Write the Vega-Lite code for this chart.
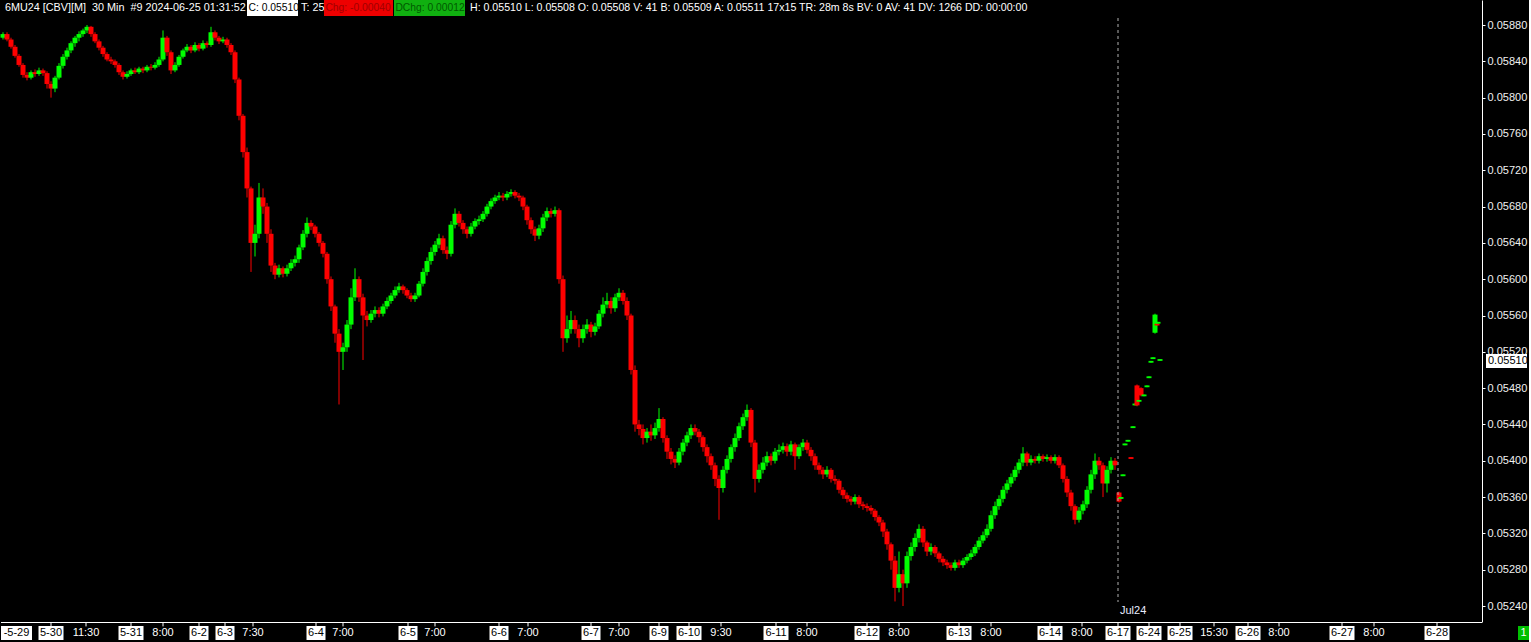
{
"$schema":"https://vega.github.io/schema/vega-lite/v6.json",
"background":"#000000",
"padding":0,
"spacing":0,
"config":{"view":{"stroke":null},"font":"Liberation Sans","numberFormat":".5f",
 "axisY":{"grid":false,"labelColor":"#f0f0f0","labelFont":"Liberation Sans","labelFontSize":11,"labelPadding":2,"tickColor":"#ffffff","tickSize":3,"domainColor":"#ffffff","domainWidth":1,"labelFlush":false,"labelOverlap":false,"title":null}},
"datasets":{
"bars":[
{"i":0,"o":0.05866,"h":0.05872,"l":0.05864,"c":0.05870},
{"i":1,"o":0.05870,"h":0.05872,"l":0.05862,"c":0.05864},
{"i":2,"o":0.05864,"h":0.05866,"l":0.05854,"c":0.05856},
{"i":3,"o":0.05856,"h":0.05858,"l":0.05844,"c":0.05846},
{"i":4,"o":0.05846,"h":0.05848,"l":0.05834,"c":0.05836},
{"i":5,"o":0.05836,"h":0.05838,"l":0.05822,"c":0.05825},
{"i":6,"o":0.05825,"h":0.05828,"l":0.05819,"c":0.05822},
{"i":7,"o":0.05822,"h":0.05830,"l":0.05820,"c":0.05828},
{"i":8,"o":0.05828,"h":0.05831,"l":0.05823,"c":0.05826},
{"i":9,"o":0.05826,"h":0.05833,"l":0.05824,"c":0.05830},
{"i":10,"o":0.05830,"h":0.05832,"l":0.05824,"c":0.05827},
{"i":11,"o":0.05827,"h":0.05829,"l":0.05810,"c":0.05815},
{"i":12,"o":0.05815,"h":0.05818,"l":0.05800,"c":0.05810},
{"i":13,"o":0.05810,"h":0.05824,"l":0.05806,"c":0.05822},
{"i":14,"o":0.05822,"h":0.05838,"l":0.05820,"c":0.05835},
{"i":15,"o":0.05835,"h":0.05848,"l":0.05832,"c":0.05845},
{"i":16,"o":0.05845,"h":0.05855,"l":0.05842,"c":0.05852},
{"i":17,"o":0.05852,"h":0.05862,"l":0.05849,"c":0.05860},
{"i":18,"o":0.05860,"h":0.05868,"l":0.05856,"c":0.05866},
{"i":19,"o":0.05866,"h":0.05873,"l":0.05862,"c":0.05870},
{"i":20,"o":0.05870,"h":0.05876,"l":0.05867,"c":0.05874},
{"i":21,"o":0.05874,"h":0.05880,"l":0.05871,"c":0.05878},
{"i":22,"o":0.05878,"h":0.05879,"l":0.05867,"c":0.05870},
{"i":23,"o":0.05870,"h":0.05872,"l":0.05860,"c":0.05862},
{"i":24,"o":0.05862,"h":0.05864,"l":0.05852,"c":0.05855},
{"i":25,"o":0.05855,"h":0.05857,"l":0.05845,"c":0.05848},
{"i":26,"o":0.05848,"h":0.05850,"l":0.05840,"c":0.05842},
{"i":27,"o":0.05842,"h":0.05845,"l":0.05837,"c":0.05840},
{"i":28,"o":0.05840,"h":0.05842,"l":0.05833,"c":0.05836},
{"i":29,"o":0.05836,"h":0.05838,"l":0.05825,"c":0.05828},
{"i":30,"o":0.05828,"h":0.05830,"l":0.05820,"c":0.05823},
{"i":31,"o":0.05823,"h":0.05829,"l":0.05821,"c":0.05826},
{"i":32,"o":0.05826,"h":0.05832,"l":0.05824,"c":0.05830},
{"i":33,"o":0.05830,"h":0.05833,"l":0.05826,"c":0.05828},
{"i":34,"o":0.05828,"h":0.05834,"l":0.05826,"c":0.05832},
{"i":35,"o":0.05832,"h":0.05834,"l":0.05827,"c":0.05830},
{"i":36,"o":0.05830,"h":0.05836,"l":0.05828,"c":0.05834},
{"i":37,"o":0.05834,"h":0.05837,"l":0.05830,"c":0.05833},
{"i":38,"o":0.05833,"h":0.05839,"l":0.05831,"c":0.05836},
{"i":39,"o":0.05836,"h":0.05845,"l":0.05834,"c":0.05842},
{"i":40,"o":0.05842,"h":0.05874,"l":0.05840,"c":0.05866},
{"i":41,"o":0.05866,"h":0.05868,"l":0.05846,"c":0.05850},
{"i":42,"o":0.05850,"h":0.05852,"l":0.05826,"c":0.05830},
{"i":43,"o":0.05830,"h":0.05839,"l":0.05828,"c":0.05836},
{"i":44,"o":0.05836,"h":0.05847,"l":0.05834,"c":0.05845},
{"i":45,"o":0.05845,"h":0.05854,"l":0.05843,"c":0.05852},
{"i":46,"o":0.05852,"h":0.05859,"l":0.05850,"c":0.05856},
{"i":47,"o":0.05856,"h":0.05858,"l":0.05849,"c":0.05852},
{"i":48,"o":0.05852,"h":0.05861,"l":0.05850,"c":0.05858},
{"i":49,"o":0.05858,"h":0.05860,"l":0.05851,"c":0.05854},
{"i":50,"o":0.05854,"h":0.05863,"l":0.05852,"c":0.05860},
{"i":51,"o":0.05860,"h":0.05862,"l":0.05855,"c":0.05858},
{"i":52,"o":0.05858,"h":0.05878,"l":0.05856,"c":0.05872},
{"i":53,"o":0.05872,"h":0.05874,"l":0.05863,"c":0.05866},
{"i":54,"o":0.05866,"h":0.05868,"l":0.05859,"c":0.05862},
{"i":55,"o":0.05862,"h":0.05867,"l":0.05860,"c":0.05864},
{"i":56,"o":0.05864,"h":0.05866,"l":0.05855,"c":0.05858},
{"i":57,"o":0.05858,"h":0.05860,"l":0.05847,"c":0.05850},
{"i":58,"o":0.05850,"h":0.05852,"l":0.05816,"c":0.05820},
{"i":59,"o":0.05820,"h":0.05822,"l":0.05775,"c":0.05780},
{"i":60,"o":0.05780,"h":0.05782,"l":0.05734,"c":0.05740},
{"i":61,"o":0.05740,"h":0.05745,"l":0.05690,"c":0.05700},
{"i":62,"o":0.05700,"h":0.05702,"l":0.05608,"c":0.05640},
{"i":63,"o":0.05640,"h":0.05660,"l":0.05625,"c":0.05650},
{"i":64,"o":0.05650,"h":0.05706,"l":0.05645,"c":0.05690},
{"i":65,"o":0.05690,"h":0.05700,"l":0.05672,"c":0.05680},
{"i":66,"o":0.05680,"h":0.05684,"l":0.05640,"c":0.05650},
{"i":67,"o":0.05650,"h":0.05655,"l":0.05608,"c":0.05615},
{"i":68,"o":0.05615,"h":0.05618,"l":0.05600,"c":0.05605},
{"i":69,"o":0.05605,"h":0.05616,"l":0.05602,"c":0.05612},
{"i":70,"o":0.05612,"h":0.05614,"l":0.05602,"c":0.05606},
{"i":71,"o":0.05606,"h":0.05616,"l":0.05603,"c":0.05612},
{"i":72,"o":0.05612,"h":0.05622,"l":0.05609,"c":0.05618},
{"i":73,"o":0.05618,"h":0.05626,"l":0.05614,"c":0.05622},
{"i":74,"o":0.05622,"h":0.05638,"l":0.05618,"c":0.05635},
{"i":75,"o":0.05635,"h":0.05654,"l":0.05632,"c":0.05650},
{"i":76,"o":0.05650,"h":0.05668,"l":0.05646,"c":0.05662},
{"i":77,"o":0.05662,"h":0.05665,"l":0.05654,"c":0.05658},
{"i":78,"o":0.05658,"h":0.05660,"l":0.05646,"c":0.05650},
{"i":79,"o":0.05650,"h":0.05652,"l":0.05636,"c":0.05640},
{"i":80,"o":0.05640,"h":0.05642,"l":0.05624,"c":0.05628},
{"i":81,"o":0.05628,"h":0.05630,"l":0.05595,"c":0.05600},
{"i":82,"o":0.05600,"h":0.05603,"l":0.05565,"c":0.05570},
{"i":83,"o":0.05570,"h":0.05572,"l":0.05530,"c":0.05540},
{"i":84,"o":0.05540,"h":0.05545,"l":0.05462,"c":0.05520},
{"i":85,"o":0.05520,"h":0.05530,"l":0.05500,"c":0.05525},
{"i":86,"o":0.05525,"h":0.05555,"l":0.05520,"c":0.05550},
{"i":87,"o":0.05550,"h":0.05590,"l":0.05545,"c":0.05580},
{"i":88,"o":0.05580,"h":0.05612,"l":0.05576,"c":0.05600},
{"i":89,"o":0.05600,"h":0.05603,"l":0.05575,"c":0.05580},
{"i":90,"o":0.05580,"h":0.05584,"l":0.05511,"c":0.05560},
{"i":91,"o":0.05560,"h":0.05565,"l":0.05548,"c":0.05555},
{"i":92,"o":0.05555,"h":0.05566,"l":0.05552,"c":0.05562},
{"i":93,"o":0.05562,"h":0.05570,"l":0.05558,"c":0.05566},
{"i":94,"o":0.05566,"h":0.05569,"l":0.05558,"c":0.05562},
{"i":95,"o":0.05562,"h":0.05573,"l":0.05559,"c":0.05570},
{"i":96,"o":0.05570,"h":0.05580,"l":0.05567,"c":0.05576},
{"i":97,"o":0.05576,"h":0.05585,"l":0.05573,"c":0.05582},
{"i":98,"o":0.05582,"h":0.05592,"l":0.05579,"c":0.05588},
{"i":99,"o":0.05588,"h":0.05596,"l":0.05585,"c":0.05592},
{"i":100,"o":0.05592,"h":0.05594,"l":0.05584,"c":0.05588},
{"i":101,"o":0.05588,"h":0.05590,"l":0.05579,"c":0.05582},
{"i":102,"o":0.05582,"h":0.05585,"l":0.05575,"c":0.05578},
{"i":103,"o":0.05578,"h":0.05585,"l":0.05575,"c":0.05582},
{"i":104,"o":0.05582,"h":0.05598,"l":0.05580,"c":0.05595},
{"i":105,"o":0.05595,"h":0.05612,"l":0.05592,"c":0.05608},
{"i":106,"o":0.05608,"h":0.05624,"l":0.05604,"c":0.05620},
{"i":107,"o":0.05620,"h":0.05635,"l":0.05616,"c":0.05630},
{"i":108,"o":0.05630,"h":0.05642,"l":0.05626,"c":0.05638},
{"i":109,"o":0.05638,"h":0.05650,"l":0.05634,"c":0.05645},
{"i":110,"o":0.05645,"h":0.05648,"l":0.05628,"c":0.05632},
{"i":111,"o":0.05632,"h":0.05636,"l":0.05622,"c":0.05628},
{"i":112,"o":0.05628,"h":0.05664,"l":0.05625,"c":0.05660},
{"i":113,"o":0.05660,"h":0.05678,"l":0.05656,"c":0.05672},
{"i":114,"o":0.05672,"h":0.05675,"l":0.05658,"c":0.05662},
{"i":115,"o":0.05662,"h":0.05665,"l":0.05650,"c":0.05655},
{"i":116,"o":0.05655,"h":0.05658,"l":0.05645,"c":0.05650},
{"i":117,"o":0.05650,"h":0.05662,"l":0.05647,"c":0.05658},
{"i":118,"o":0.05658,"h":0.05667,"l":0.05655,"c":0.05664},
{"i":119,"o":0.05664,"h":0.05670,"l":0.05660,"c":0.05666},
{"i":120,"o":0.05666,"h":0.05675,"l":0.05663,"c":0.05672},
{"i":121,"o":0.05672,"h":0.05683,"l":0.05669,"c":0.05680},
{"i":122,"o":0.05680,"h":0.05689,"l":0.05677,"c":0.05686},
{"i":123,"o":0.05686,"h":0.05693,"l":0.05683,"c":0.05690},
{"i":124,"o":0.05690,"h":0.05696,"l":0.05687,"c":0.05692},
{"i":125,"o":0.05692,"h":0.05695,"l":0.05686,"c":0.05690},
{"i":126,"o":0.05690,"h":0.05697,"l":0.05687,"c":0.05694},
{"i":127,"o":0.05694,"h":0.05699,"l":0.05691,"c":0.05696},
{"i":128,"o":0.05696,"h":0.05698,"l":0.05689,"c":0.05692},
{"i":129,"o":0.05692,"h":0.05695,"l":0.05686,"c":0.05690},
{"i":130,"o":0.05690,"h":0.05692,"l":0.05676,"c":0.05680},
{"i":131,"o":0.05680,"h":0.05682,"l":0.05660,"c":0.05665},
{"i":132,"o":0.05665,"h":0.05668,"l":0.05650,"c":0.05655},
{"i":133,"o":0.05655,"h":0.05658,"l":0.05642,"c":0.05648},
{"i":134,"o":0.05648,"h":0.05660,"l":0.05644,"c":0.05656},
{"i":135,"o":0.05656,"h":0.05672,"l":0.05652,"c":0.05668},
{"i":136,"o":0.05668,"h":0.05679,"l":0.05664,"c":0.05675},
{"i":137,"o":0.05675,"h":0.05678,"l":0.05668,"c":0.05672},
{"i":138,"o":0.05672,"h":0.05680,"l":0.05669,"c":0.05676},
{"i":139,"o":0.05676,"h":0.05678,"l":0.05595,"c":0.05600},
{"i":140,"o":0.05600,"h":0.05604,"l":0.05520,"c":0.05535},
{"i":141,"o":0.05535,"h":0.05560,"l":0.05530,"c":0.05545},
{"i":142,"o":0.05545,"h":0.05565,"l":0.05540,"c":0.05555},
{"i":143,"o":0.05555,"h":0.05560,"l":0.05540,"c":0.05545},
{"i":144,"o":0.05545,"h":0.05550,"l":0.05525,"c":0.05535},
{"i":145,"o":0.05535,"h":0.05550,"l":0.05530,"c":0.05545},
{"i":146,"o":0.05545,"h":0.05556,"l":0.05540,"c":0.05550},
{"i":147,"o":0.05550,"h":0.05553,"l":0.05536,"c":0.05542},
{"i":148,"o":0.05542,"h":0.05552,"l":0.05538,"c":0.05548},
{"i":149,"o":0.05548,"h":0.05566,"l":0.05545,"c":0.05562},
{"i":150,"o":0.05562,"h":0.05580,"l":0.05558,"c":0.05572},
{"i":151,"o":0.05572,"h":0.05585,"l":0.05568,"c":0.05576},
{"i":152,"o":0.05576,"h":0.05580,"l":0.05562,"c":0.05568},
{"i":153,"o":0.05568,"h":0.05584,"l":0.05564,"c":0.05580},
{"i":154,"o":0.05580,"h":0.05590,"l":0.05576,"c":0.05585},
{"i":155,"o":0.05585,"h":0.05588,"l":0.05572,"c":0.05576},
{"i":156,"o":0.05576,"h":0.05580,"l":0.05555,"c":0.05560},
{"i":157,"o":0.05560,"h":0.05562,"l":0.05495,"c":0.05500},
{"i":158,"o":0.05500,"h":0.05505,"l":0.05432,"c":0.05440},
{"i":159,"o":0.05440,"h":0.05445,"l":0.05428,"c":0.05435},
{"i":160,"o":0.05435,"h":0.05440,"l":0.05418,"c":0.05425},
{"i":161,"o":0.05425,"h":0.05436,"l":0.05420,"c":0.05432},
{"i":162,"o":0.05432,"h":0.05440,"l":0.05422,"c":0.05428},
{"i":163,"o":0.05428,"h":0.05442,"l":0.05424,"c":0.05436},
{"i":164,"o":0.05436,"h":0.05458,"l":0.05432,"c":0.05446},
{"i":165,"o":0.05446,"h":0.05448,"l":0.05420,"c":0.05425},
{"i":166,"o":0.05425,"h":0.05428,"l":0.05402,"c":0.05410},
{"i":167,"o":0.05410,"h":0.05414,"l":0.05396,"c":0.05402},
{"i":168,"o":0.05402,"h":0.05406,"l":0.05392,"c":0.05398},
{"i":169,"o":0.05398,"h":0.05414,"l":0.05395,"c":0.05410},
{"i":170,"o":0.05410,"h":0.05424,"l":0.05406,"c":0.05420},
{"i":171,"o":0.05420,"h":0.05432,"l":0.05416,"c":0.05428},
{"i":172,"o":0.05428,"h":0.05440,"l":0.05424,"c":0.05436},
{"i":173,"o":0.05436,"h":0.05440,"l":0.05428,"c":0.05432},
{"i":174,"o":0.05432,"h":0.05435,"l":0.05420,"c":0.05426},
{"i":175,"o":0.05426,"h":0.05428,"l":0.05410,"c":0.05415},
{"i":176,"o":0.05415,"h":0.05418,"l":0.05398,"c":0.05405},
{"i":177,"o":0.05405,"h":0.05408,"l":0.05390,"c":0.05395},
{"i":178,"o":0.05395,"h":0.05398,"l":0.05372,"c":0.05380},
{"i":179,"o":0.05380,"h":0.05384,"l":0.05335,"c":0.05370},
{"i":180,"o":0.05370,"h":0.05394,"l":0.05365,"c":0.05390},
{"i":181,"o":0.05390,"h":0.05406,"l":0.05386,"c":0.05402},
{"i":182,"o":0.05402,"h":0.05418,"l":0.05398,"c":0.05415},
{"i":183,"o":0.05415,"h":0.05430,"l":0.05410,"c":0.05425},
{"i":184,"o":0.05425,"h":0.05442,"l":0.05422,"c":0.05438},
{"i":185,"o":0.05438,"h":0.05452,"l":0.05434,"c":0.05448},
{"i":186,"o":0.05448,"h":0.05462,"l":0.05444,"c":0.05456},
{"i":187,"o":0.05456,"h":0.05458,"l":0.05415,"c":0.05420},
{"i":188,"o":0.05420,"h":0.05423,"l":0.05365,"c":0.05380},
{"i":189,"o":0.05380,"h":0.05396,"l":0.05376,"c":0.05390},
{"i":190,"o":0.05390,"h":0.05404,"l":0.05386,"c":0.05398},
{"i":191,"o":0.05398,"h":0.05410,"l":0.05394,"c":0.05405},
{"i":192,"o":0.05405,"h":0.05408,"l":0.05395,"c":0.05400},
{"i":193,"o":0.05400,"h":0.05414,"l":0.05397,"c":0.05410},
{"i":194,"o":0.05410,"h":0.05418,"l":0.05406,"c":0.05412},
{"i":195,"o":0.05412,"h":0.05420,"l":0.05408,"c":0.05416},
{"i":196,"o":0.05416,"h":0.05419,"l":0.05405,"c":0.05410},
{"i":197,"o":0.05410,"h":0.05422,"l":0.05406,"c":0.05418},
{"i":198,"o":0.05418,"h":0.05420,"l":0.05390,"c":0.05405},
{"i":199,"o":0.05405,"h":0.05418,"l":0.05402,"c":0.05415},
{"i":200,"o":0.05415,"h":0.05424,"l":0.05411,"c":0.05420},
{"i":201,"o":0.05420,"h":0.05423,"l":0.05408,"c":0.05412},
{"i":202,"o":0.05412,"h":0.05415,"l":0.05400,"c":0.05405},
{"i":203,"o":0.05405,"h":0.05408,"l":0.05390,"c":0.05395},
{"i":204,"o":0.05395,"h":0.05398,"l":0.05385,"c":0.05390},
{"i":205,"o":0.05390,"h":0.05393,"l":0.05380,"c":0.05385},
{"i":206,"o":0.05385,"h":0.05394,"l":0.05382,"c":0.05390},
{"i":207,"o":0.05390,"h":0.05392,"l":0.05376,"c":0.05380},
{"i":208,"o":0.05380,"h":0.05384,"l":0.05374,"c":0.05378},
{"i":209,"o":0.05378,"h":0.05380,"l":0.05364,"c":0.05368},
{"i":210,"o":0.05368,"h":0.05371,"l":0.05358,"c":0.05362},
{"i":211,"o":0.05362,"h":0.05365,"l":0.05354,"c":0.05358},
{"i":212,"o":0.05358,"h":0.05361,"l":0.05351,"c":0.05355},
{"i":213,"o":0.05355,"h":0.05363,"l":0.05352,"c":0.05360},
{"i":214,"o":0.05360,"h":0.05362,"l":0.05348,"c":0.05352},
{"i":215,"o":0.05352,"h":0.05355,"l":0.05346,"c":0.05350},
{"i":216,"o":0.05350,"h":0.05353,"l":0.05344,"c":0.05348},
{"i":217,"o":0.05348,"h":0.05351,"l":0.05341,"c":0.05345},
{"i":218,"o":0.05345,"h":0.05347,"l":0.05334,"c":0.05338},
{"i":219,"o":0.05338,"h":0.05340,"l":0.05328,"c":0.05332},
{"i":220,"o":0.05332,"h":0.05335,"l":0.05316,"c":0.05322},
{"i":221,"o":0.05322,"h":0.05325,"l":0.05302,"c":0.05308},
{"i":222,"o":0.05308,"h":0.05310,"l":0.05280,"c":0.05290},
{"i":223,"o":0.05290,"h":0.05295,"l":0.05245,"c":0.05260},
{"i":224,"o":0.05260,"h":0.05300,"l":0.05255,"c":0.05275},
{"i":225,"o":0.05275,"h":0.05280,"l":0.05240,"c":0.05265},
{"i":226,"o":0.05265,"h":0.05300,"l":0.05260,"c":0.05295},
{"i":227,"o":0.05295,"h":0.05310,"l":0.05290,"c":0.05305},
{"i":228,"o":0.05305,"h":0.05320,"l":0.05300,"c":0.05315},
{"i":229,"o":0.05315,"h":0.05330,"l":0.05310,"c":0.05325},
{"i":230,"o":0.05325,"h":0.05328,"l":0.05305,"c":0.05310},
{"i":231,"o":0.05310,"h":0.05312,"l":0.05295,"c":0.05300},
{"i":232,"o":0.05300,"h":0.05309,"l":0.05296,"c":0.05305},
{"i":233,"o":0.05305,"h":0.05307,"l":0.05294,"c":0.05298},
{"i":234,"o":0.05298,"h":0.05300,"l":0.05288,"c":0.05292},
{"i":235,"o":0.05292,"h":0.05295,"l":0.05284,"c":0.05288},
{"i":236,"o":0.05288,"h":0.05291,"l":0.05281,"c":0.05285},
{"i":237,"o":0.05285,"h":0.05288,"l":0.05279,"c":0.05282},
{"i":238,"o":0.05282,"h":0.05291,"l":0.05279,"c":0.05288},
{"i":239,"o":0.05288,"h":0.05291,"l":0.05282,"c":0.05285},
{"i":240,"o":0.05285,"h":0.05293,"l":0.05282,"c":0.05290},
{"i":241,"o":0.05290,"h":0.05297,"l":0.05287,"c":0.05294},
{"i":242,"o":0.05294,"h":0.05302,"l":0.05291,"c":0.05298},
{"i":243,"o":0.05298,"h":0.05308,"l":0.05295,"c":0.05305},
{"i":244,"o":0.05305,"h":0.05316,"l":0.05302,"c":0.05312},
{"i":245,"o":0.05312,"h":0.05322,"l":0.05309,"c":0.05318},
{"i":246,"o":0.05318,"h":0.05330,"l":0.05315,"c":0.05325},
{"i":247,"o":0.05325,"h":0.05345,"l":0.05322,"c":0.05340},
{"i":248,"o":0.05340,"h":0.05355,"l":0.05336,"c":0.05350},
{"i":249,"o":0.05350,"h":0.05362,"l":0.05346,"c":0.05358},
{"i":250,"o":0.05358,"h":0.05372,"l":0.05354,"c":0.05368},
{"i":251,"o":0.05368,"h":0.05379,"l":0.05364,"c":0.05375},
{"i":252,"o":0.05375,"h":0.05386,"l":0.05371,"c":0.05382},
{"i":253,"o":0.05382,"h":0.05394,"l":0.05378,"c":0.05390},
{"i":254,"o":0.05390,"h":0.05402,"l":0.05386,"c":0.05398},
{"i":255,"o":0.05398,"h":0.05415,"l":0.05394,"c":0.05408},
{"i":256,"o":0.05408,"h":0.05410,"l":0.05394,"c":0.05398},
{"i":257,"o":0.05398,"h":0.05406,"l":0.05395,"c":0.05402},
{"i":258,"o":0.05402,"h":0.05405,"l":0.05397,"c":0.05400},
{"i":259,"o":0.05400,"h":0.05408,"l":0.05397,"c":0.05405},
{"i":260,"o":0.05405,"h":0.05407,"l":0.05399,"c":0.05402},
{"i":261,"o":0.05402,"h":0.05407,"l":0.05399,"c":0.05404},
{"i":262,"o":0.05404,"h":0.05406,"l":0.05397,"c":0.05400},
{"i":263,"o":0.05400,"h":0.05407,"l":0.05397,"c":0.05404},
{"i":264,"o":0.05404,"h":0.05406,"l":0.05392,"c":0.05395},
{"i":265,"o":0.05395,"h":0.05397,"l":0.05376,"c":0.05380},
{"i":266,"o":0.05380,"h":0.05383,"l":0.05360,"c":0.05365},
{"i":267,"o":0.05365,"h":0.05368,"l":0.05345,"c":0.05350},
{"i":268,"o":0.05350,"h":0.05352,"l":0.05330,"c":0.05335},
{"i":269,"o":0.05335,"h":0.05349,"l":0.05332,"c":0.05345},
{"i":270,"o":0.05345,"h":0.05356,"l":0.05341,"c":0.05352},
{"i":271,"o":0.05352,"h":0.05372,"l":0.05348,"c":0.05368},
{"i":272,"o":0.05368,"h":0.05390,"l":0.05364,"c":0.05385},
{"i":273,"o":0.05385,"h":0.05408,"l":0.05380,"c":0.05400},
{"i":274,"o":0.05400,"h":0.05404,"l":0.05390,"c":0.05395},
{"i":275,"o":0.05395,"h":0.05398,"l":0.05360,"c":0.05375},
{"i":276,"o":0.05375,"h":0.05394,"l":0.05365,"c":0.05390},
{"i":277,"o":0.05390,"h":0.05404,"l":0.05386,"c":0.05400},
{"i":278,"o":0.05400,"h":0.05403,"l":0.05390,"c":0.05395},
{"i":279,"o":0.05365,"h":0.05366,"l":0.05354,"c":0.05355},
{"i":279.5,"o":0.05358,"h":0.05360,"l":0.05358,"c":0.05360},
{"i":280,"o":0.05383,"h":0.05385,"l":0.05383,"c":0.05385},
{"i":280.5,"o":0.05417,"h":0.05419,"l":0.05417,"c":0.05419},
{"i":281.25,"o":0.05421,"h":0.05423,"l":0.05421,"c":0.05423},
{"i":282,"o":0.05404,"h":0.05404,"l":0.05402,"c":0.05402},
{"i":282.5,"o":0.05436,"h":0.05438,"l":0.05436,"c":0.05438},
{"i":283,"o":0.05461,"h":0.05463,"l":0.05461,"c":0.05463},
{"i":283.5,"o":0.05483,"h":0.05484,"l":0.05460,"c":0.05461},
{"i":284,"o":0.05465,"h":0.05467,"l":0.05465,"c":0.05467},
{"i":284.5,"o":0.05480,"h":0.05481,"l":0.05471,"c":0.05472},
{"i":285.25,"o":0.05471,"h":0.05473,"l":0.05471,"c":0.05473},
{"i":286,"o":0.05481,"h":0.05483,"l":0.05481,"c":0.05483},
{"i":286.5,"o":0.05491,"h":0.05493,"l":0.05491,"c":0.05493},
{"i":287,"o":0.05508,"h":0.05510,"l":0.05508,"c":0.05510},
{"i":287.5,"o":0.05512,"h":0.05514,"l":0.05512,"c":0.05514},
{"i":289.25,"o":0.05510,"h":0.05512,"l":0.05510,"c":0.05512},
{"i":288,"o":0.05541,"h":0.05562,"l":0.05540,"c":0.05561},
{"i":288.5,"o":0.05551,"h":0.05551,"l":0.05549,"c":0.05549},
{"i":288.75,"o":0.05551,"h":0.05553,"l":0.05551,"c":0.05553}
],
"xl":[
{"lab":"-5-29","i":3.375,"k":"d"},{"lab":"5-30","i":12,"k":"d"},{"lab":"11:30","i":20.75,"k":"t"},{"lab":"5-31","i":32,"k":"d"},{"lab":"8:00","i":40,"k":"t"},{"lab":"6-2","i":49,"k":"d"},{"lab":"6-3","i":55.5,"k":"d"},{"lab":"7:30","i":62.5,"k":"t"},{"lab":"6-4","i":78.25,"k":"d"},{"lab":"7:00","i":85,"k":"t"},{"lab":"6-5","i":101.25,"k":"d"},{"lab":"7:00","i":108,"k":"t"},{"lab":"6-6","i":124,"k":"d"},{"lab":"7:00","i":131.25,"k":"t"},{"lab":"6-7","i":147,"k":"d"},{"lab":"7:00","i":154,"k":"t"},{"lab":"6-9","i":164,"k":"d"},{"lab":"6-10","i":171.5,"k":"d"},{"lab":"9:30","i":179.5,"k":"t"},{"lab":"6-11","i":193.25,"k":"d"},{"lab":"8:00","i":201,"k":"t"},{"lab":"6-12","i":216,"k":"d"},{"lab":"8:00","i":224,"k":"t"},{"lab":"6-13","i":239,"k":"d"},{"lab":"8:00","i":247,"k":"t"},{"lab":"6-14","i":261.75,"k":"d"},{"lab":"8:00","i":269.75,"k":"t"},{"lab":"6-17","i":278.75,"k":"d"},{"lab":"6-24","i":286.5,"k":"d"},{"lab":"6-25","i":294.25,"k":"d"},{"lab":"15:30","i":302.75,"k":"t"},{"lab":"6-26","i":311.25,"k":"d"},{"lab":"8:00","i":319,"k":"t"},{"lab":"6-27","i":334.75,"k":"d"},{"lab":"8:00","i":342.75,"k":"t"},{"lab":"6-28","i":358.5,"k":"d"}
]
},
"vconcat":[
{
"width":1481,"height":622,
"layer":[
{"data":{"name":"bars"},"mark":{"type":"rule","strokeWidth":1},
 "encoding":{
  "x":{"field":"i","type":"quantitative","scale":{"domain":[-0.5,369.75],"nice":false,"zero":false,"padding":0},"axis":null},
  "y":{"field":"l","type":"quantitative","scale":{"domain":[0.0522238,0.0590754],"nice":false,"zero":false,"padding":0},
       "axis":{"orient":"right","title":null,"values":[0.0524,0.0528,0.0532,0.0536,0.054,0.0544,0.0548,0.0552,0.0556,0.056,0.0564,0.0568,0.0572,0.0576,0.058,0.0584,0.0588],"format":".5f","labelOverlap":false,"labelFlush":false,"labelBound":false,"tickCount":17}},
  "y2":{"field":"h"},
  "color":{"condition":{"test":"datum.c>=datum.o","value":"#00ff00"},"value":"#ff0000"}}},
{"data":{"name":"bars"},"mark":{"type":"bar","size":5},
 "encoding":{
  "x":{"field":"i","type":"quantitative","axis":null},
  "y":{"field":"o","type":"quantitative","axis":{"orient":"right","title":null,"labelOverlap":false}},
  "y2":{"field":"c"},
  "color":{"condition":{"test":"datum.c>=datum.o","value":"#00ff00"},"value":"#ff0000"}}},
{"data":{"values":[{}]},"mark":{"type":"rule","color":"#b0b0b0","strokeDash":[3,3],"strokeWidth":1},
 "encoding":{"x":{"datum":278.75,"type":"quantitative","axis":null},"y":{"datum":0.058877,"type":"quantitative","axis":{"orient":"right","title":null,"labelOverlap":false}},"y2":{"datum":0.052444}}},
{"data":{"values":[{"t":"Jul24"}]},"mark":{"type":"text","align":"left","baseline":"middle","color":"#e8ecff","fontSize":11,"font":"Liberation Sans"},
 "encoding":{"x":{"datum":279.25,"type":"quantitative","axis":null},"y":{"datum":0.052345,"type":"quantitative","axis":{"orient":"right","title":null,"labelOverlap":false}},"text":{"field":"t"}}},
{"data":{"values":[{}]},"mark":{"type":"rect","color":"#ffffff"},
 "encoding":{"x":{"datum":370.75,"type":"quantitative","axis":null},"x2":{"datum":381},"y":{"datum":0.055022,"type":"quantitative","axis":{"orient":"right","title":null,"labelOverlap":false}},"y2":{"datum":0.055176}}},
{"data":{"values":[{"t":"0.05510"}]},"mark":{"type":"text","align":"left","baseline":"middle","color":"#000000","fontSize":11,"font":"Liberation Sans"},
 "encoding":{"x":{"datum":371.25,"type":"quantitative","axis":null},"y":{"datum":0.0551,"type":"quantitative","axis":{"orient":"right","title":null,"labelOverlap":false}},"text":{"field":"t"}}},
{"data":{"values":[{}]},"mark":{"type":"rect","color":"#ffffff"},
 "encoding":{"x":{"datum":61,"type":"quantitative","axis":null},"x2":{"datum":73.75},"y":{"datum":0.058899,"type":"quantitative","axis":{"orient":"right","title":null,"labelOverlap":false}},"y2":{"datum":0.0590754}}},
{"data":{"values":[{}]},"mark":{"type":"rect","color":"#ee0000"},
 "encoding":{"x":{"datum":80.25,"type":"quantitative","axis":null},"x2":{"datum":97.5},"y":{"datum":0.058899,"type":"quantitative","axis":{"orient":"right","title":null,"labelOverlap":false}},"y2":{"datum":0.0590754}}},
{"data":{"values":[{}]},"mark":{"type":"rect","color":"#10b010"},
 "encoding":{"x":{"datum":97.75,"type":"quantitative","axis":null},"x2":{"datum":115.5},"y":{"datum":0.058899,"type":"quantitative","axis":{"orient":"right","title":null,"labelOverlap":false}},"y2":{"datum":0.0590754}}},
{"data":{"values":[{"t":"6MU24 [CBV][M]\u00a0 30 Min\u00a0 #9 2024-06-25 01:31:52"}]},"mark":{"type":"text","align":"left","baseline":"middle","color":"#ffffff","fontSize":10.8,"font":"Liberation Sans"},
 "encoding":{"x":{"datum":0.5,"type":"quantitative","axis":null},"y":{"datum":0.058987,"type":"quantitative","axis":{"orient":"right","title":null,"labelOverlap":false}},"text":{"field":"t"}}},
{"data":{"values":[{"t":"C: 0.05510"}]},"mark":{"type":"text","align":"left","baseline":"middle","color":"#000000","fontSize":10.3,"font":"Liberation Sans"},
 "encoding":{"x":{"datum":61.4,"type":"quantitative","axis":null},"y":{"datum":0.058987,"type":"quantitative","axis":{"orient":"right","title":null,"labelOverlap":false}},"text":{"field":"t"}}},
{"data":{"values":[{"t":"T: 25"}]},"mark":{"type":"text","align":"left","baseline":"middle","color":"#ffffff","fontSize":10.8,"font":"Liberation Sans"},
 "encoding":{"x":{"datum":74.5,"type":"quantitative","axis":null},"y":{"datum":0.058987,"type":"quantitative","axis":{"orient":"right","title":null,"labelOverlap":false}},"text":{"field":"t"}}},
{"data":{"values":[{"t":"Chg: -0.00040"}]},"mark":{"type":"text","align":"left","baseline":"middle","color":"#a00000","fontSize":10.3,"font":"Liberation Sans"},
 "encoding":{"x":{"datum":80.6,"type":"quantitative","axis":null},"y":{"datum":0.058987,"type":"quantitative","axis":{"orient":"right","title":null,"labelOverlap":false}},"text":{"field":"t"}}},
{"data":{"values":[{"t":"DChg: 0.00012"}]},"mark":{"type":"text","align":"left","baseline":"middle","color":"#005a00","fontSize":10.3,"font":"Liberation Sans"},
 "encoding":{"x":{"datum":98.1,"type":"quantitative","axis":null},"y":{"datum":0.058987,"type":"quantitative","axis":{"orient":"right","title":null,"labelOverlap":false}},"text":{"field":"t"}}},
{"data":{"values":[{"t":"H: 0.05510 L: 0.05508 O: 0.05508 V: 41 B: 0.05509 A: 0.05511 17x15 TR: 28m 8s BV: 0 AV: 41 DV: 1266 DD: 00:00:00"}]},"mark":{"type":"text","align":"left","baseline":"middle","color":"#ffffff","fontSize":10.6,"font":"Liberation Sans"},
 "encoding":{"x":{"datum":116.75,"type":"quantitative","axis":null},"y":{"datum":0.058987,"type":"quantitative","axis":{"orient":"right","title":null,"labelOverlap":false}},"text":{"field":"t"}}}
]
},
{
"width":1481,"height":20,
"layer":[
{"data":{"values":[{}]},"mark":{"type":"rule","color":"#ffffff","strokeWidth":1},
 "encoding":{"x":{"datum":-0.5,"type":"quantitative","scale":{"domain":[-0.5,369.75],"nice":false,"zero":false,"padding":0},"axis":null},"x2":{"datum":369.75},"y":{"datum":0.975,"type":"quantitative","scale":{"domain":[0,1],"nice":false,"zero":false,"padding":0},"axis":null}}},
{"data":{"name":"xl"},"transform":[{"filter":"datum.lab != '-5-29'"}],"mark":{"type":"rule","color":"#ffffff","strokeWidth":1},
 "encoding":{"x":{"field":"i","type":"quantitative","axis":null},"y":{"datum":0.975,"type":"quantitative","axis":null},"y2":{"datum":0.78}}},
{"data":{"name":"xl"},"transform":[{"filter":"datum.k == 'd'"}],"mark":{"type":"bar","color":"#ffffff"},
 "encoding":{"x":{"field":"i","type":"quantitative","axis":null},"y":{"datum":0.8,"type":"quantitative","axis":null},"y2":{"datum":0.1},
  "size":{"condition":[{"test":"length(datum.lab)==3","value":19},{"test":"length(datum.lab)==5","value":31}],"value":25}}},
{"data":{"name":"xl"},"mark":{"type":"text","align":"center","baseline":"middle","fontSize":11,"font":"Liberation Sans"},
 "encoding":{"x":{"field":"i","type":"quantitative","axis":null},"y":{"datum":0.45,"type":"quantitative","axis":null},"text":{"field":"lab"},
  "color":{"condition":{"test":"datum.k == 'd'","value":"#000000"},"value":"#ffffff"}}},
{"data":{"values":[{}]},"mark":{"type":"rect","color":"#00c000"},
 "encoding":{"x":{"datum":378.75,"type":"quantitative","axis":null},"x2":{"datum":381.5},"y":{"datum":0.8,"type":"quantitative","axis":null},"y2":{"datum":0.1}}},
{"data":{"values":[{"t":"1"}]},"mark":{"type":"text","align":"center","baseline":"middle","color":"#ffffff","fontSize":11,"font":"Liberation Sans"},
 "encoding":{"x":{"datum":380.125,"type":"quantitative","axis":null},"y":{"datum":0.45,"type":"quantitative","axis":null},"text":{"field":"t"}}}
]
}
]
}
